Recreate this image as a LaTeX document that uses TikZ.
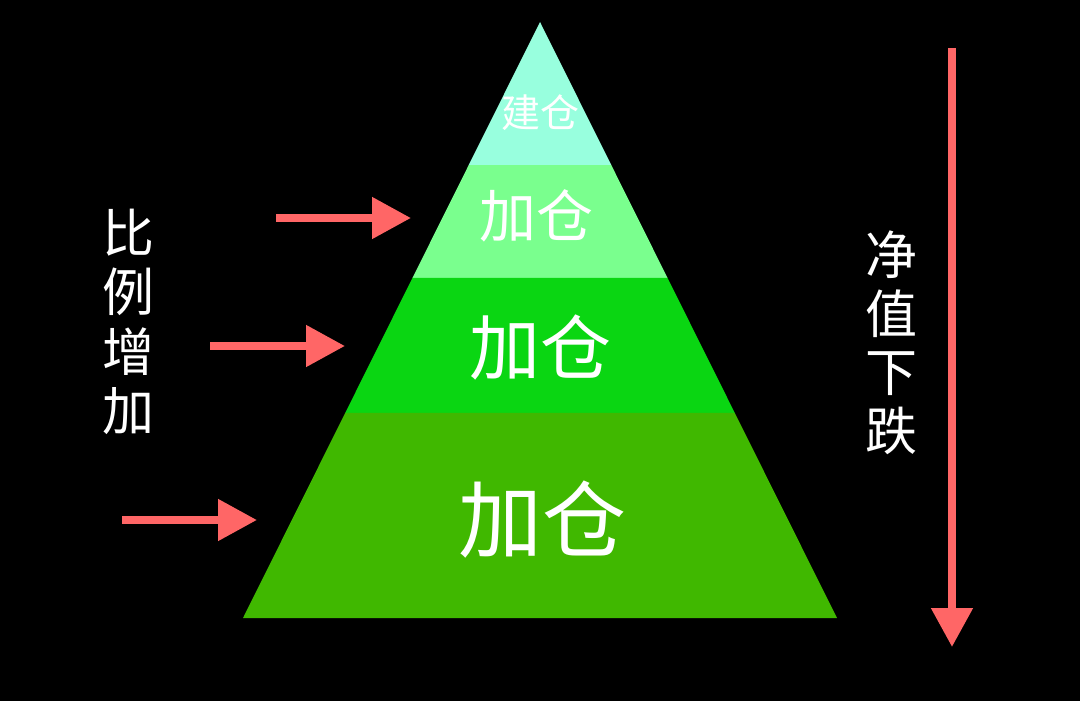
\documentclass[tikz,border=0pt]{standalone}
\usepackage{fontspec}
\setmainfont{Noto Sans CJK SC}
\usetikzlibrary{arrows.meta,calc}

\begin{document}
\begin{tikzpicture}[
  x=1pt, y=-1pt, % one unit per pixel, y running down
  line join=round,
  tier text/.style={text=white, inner sep=0pt},
  side text/.style={text=white, inner sep=0pt, align=center},
  push/.style={draw=arrowred, line width=8pt, -{Triangle[length=39pt, width=40pt]}}
]
  % Colors
  \definecolor{arrowred}{RGB}{255,102,102}
  \definecolor{tierA}{RGB}{152,255,222}
  \definecolor{tierB}{RGB}{122,255,142}
  \definecolor{tierC}{RGB}{10,214,18}
  \definecolor{tierD}{RGB}{64,184,0}

  % ---- background ----
  \fill[black] (0,0) rectangle (1080,701);
  \useasboundingbox (0,0) rectangle (1080,701);

  % ---- pyramid corners ----
  \coordinate (apex) at (540,22);
  \coordinate (baseL) at (243,618);
  \coordinate (baseR) at (837,618);

  % cut points on both slopes: a below the top, b, c further down
  \foreach \n/\t in {a/0.2400, b/0.4295, c/0.6560} {
    \coordinate (L\n) at ($(apex)!\t!(baseL)$);
    \coordinate (R\n) at ($(apex)!\t!(baseR)$);
  }

  % ---- tiers ----
  \fill[tierA] (apex) -- (Ra) -- (La) -- cycle;
  \fill[tierB] (La) -- (Ra) -- (Rb) -- (Lb) -- cycle;
  \fill[tierC] (Lb) -- (Rb) -- (Rc) -- (Lc) -- cycle;
  \fill[tierD] (Lc) -- (Rc) -- (baseR) -- (baseL) -- cycle;

  % ---- tier labels ----
  \node[tier text, font=\fontsize{39}{39}\selectfont] (build) at (540,113) {建仓};
  \node[tier text, font=\fontsize{57}{57}\selectfont] (addA) at (536,216) {加仓};
  \node[tier text, font=\fontsize{71}{71}\selectfont] (addB) at (540,348) {加仓};
  \node[tier text, font=\fontsize{84}{84}\selectfont] (addC) at (542,520) {加仓};

  % ---- side captions (one character per line) ----
  \node[side text, font=\fontsize{52}{59.5}\selectfont] (ratio) at (128,322) {比\\例\\增\\加};
  \node[side text, font=\fontsize{52}{58.5}\selectfont] (fall) at (891,343) {净\\值\\下\\跌};

  % ---- arrows into the slope ----
  \foreach \i/\xs/\xe/\y in {1/276/411/218, 2/210/345/346, 3/122/257/520} {
    \coordinate (from\i) at (\xs,\y);
    \coordinate (to\i) at (\xe,\y);
  }
  \draw[push] (from1) -- (to1);
  \draw[push] (from2) -- (to2);
  \draw[push] (from3) -- (to3);

  % ---- falling value arrow ----
  \coordinate (dropTop) at (952,48);
  \coordinate (dropEnd) at (952,647);
  \draw[push] (dropTop) -- (dropEnd);

\end{tikzpicture}
\end{document}
